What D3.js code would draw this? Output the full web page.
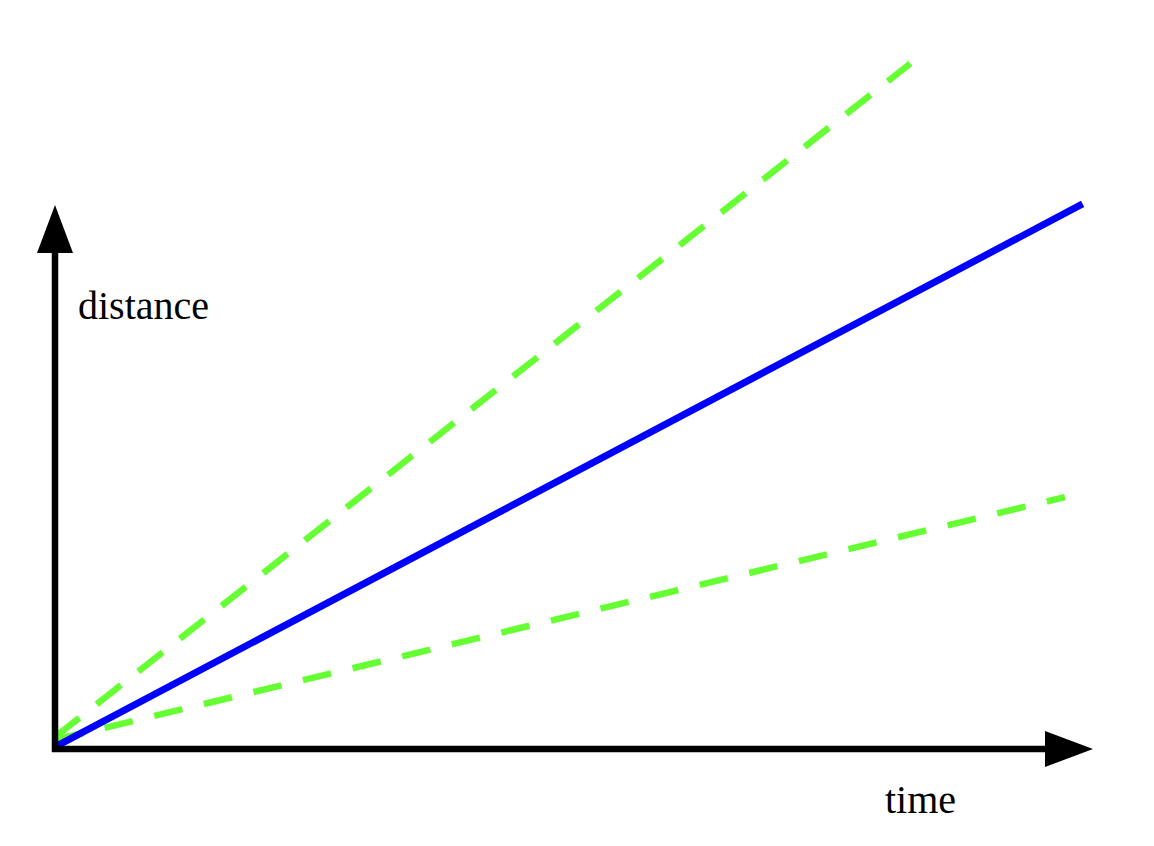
<!DOCTYPE html>
<html lang="en">
<head>
<meta charset="utf-8">
<script src="https://d3js.org/d3.v7.min.js"></script>
<style>
  body { margin: 0; background: #fff; }
  text { font-family: "Liberation Serif", "Times New Roman", serif; font-size: 40px; fill: #000; }
</style>
</head>
<body>

<svg width="1154" height="846"></svg>

<script>

// readings, in chart units (time 0..10 along x, distance 0..10 up y)
var blueTimes = [0, 9.9];
var blueDist = [0.04, 10.02];

var fastTimes = [0, 8.24];
var fastDist = [0.22, 12.6];

var slowTimes = [0, 9.73];
var slowDist = [0.17, 4.63];

var axisLabels = ["time", "distance"];

var svg = d3.select("svg");

var x = d3.scaleLinear().domain([0, 10]).range([55, 1093]);
var y = d3.scaleLinear().domain([0, 10]).range([749, 205]);

var line = d3.line()
	.x(function (d) { return x(d[0]); })
	.y(function (d) { return y(d[1]); });

function pairs(ts, ds) {
	return ts.map(function (t, i) { return [t, ds[i]]; });
}

// green dashed lines
svg.append("path")
	.datum(pairs(fastTimes, fastDist))
	.attr("d", line)
	.attr("fill", "none")
	.attr("stroke", "#66ff33")
	.attr("stroke-width", 6.5)
	.attr("stroke-dasharray", "31,22");

svg.append("path")
	.datum(pairs(slowTimes, slowDist))
	.attr("d", line)
	.attr("fill", "none")
	.attr("stroke", "#66ff33")
	.attr("stroke-width", 6.5)
	.attr("stroke-dasharray", "29,22");

// blue solid line
svg.append("path")
	.datum(pairs(blueTimes, blueDist))
	.attr("d", line)
	.attr("fill", "none")
	.attr("stroke", "#0000ff")
	.attr("stroke-width", 7);

// axes: thick lines with arrow heads at the ends of the scale ranges
var x0 = x.range()[0], x1 = x.range()[1];
var y0 = y.range()[0], y1 = y.range()[1];
var head = 48, half = 18;

svg.append("line")
	.attr("x1", x0 - 3).attr("y1", y0)
	.attr("x2", x1 - head + 2).attr("y2", y0)
	.attr("stroke", "#000").attr("stroke-width", 6.5);

svg.append("line")
	.attr("x1", x0).attr("y1", y0 + 3)
	.attr("x2", x0).attr("y2", y1 + head - 2)
	.attr("stroke", "#000").attr("stroke-width", 6.5);

svg.append("polygon")
	.attr("points", [[x1, y0], [x1 - head, y0 - half], [x1 - head, y0 + half]].join(" "))
	.attr("fill", "#000");

svg.append("polygon")
	.attr("points", [[x0, y1], [x0 - half, y1 + head], [x0 + half, y1 + head]].join(" "))
	.attr("fill", "#000");

svg.append("text")
	.attr("x", 885)
	.attr("y", 813)
	.text(axisLabels[0]);

svg.append("text")
	.attr("x", 78)
	.attr("y", 319)
	.text(axisLabels[1]);

</script>

</body>
</html>
